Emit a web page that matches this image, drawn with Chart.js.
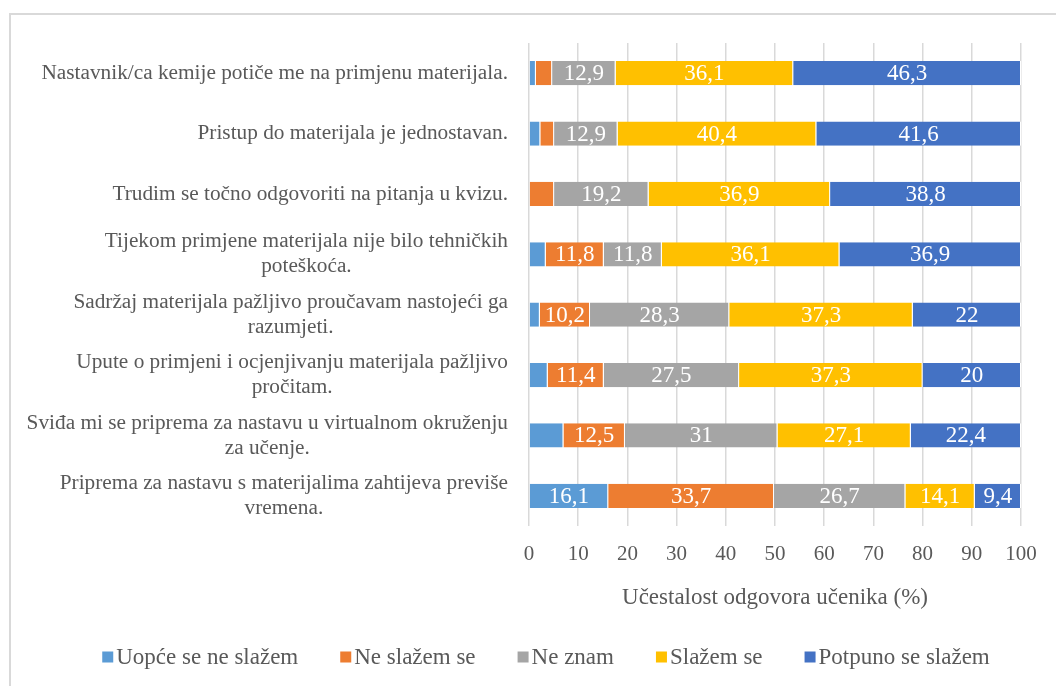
<!DOCTYPE html>
<html>
<head>
<meta charset="utf-8">
<script src="https://cdn.jsdelivr.net/npm/chart.js@4.4.1/dist/chart.umd.min.js"></script>
<style>
  html, body { margin: 0; padding: 0; background: #fff; overflow: hidden; }
  #chart { display: block; }
</style>
</head>
<body>
<canvas id="chart" width="1056" height="686"></canvas>
<script>
// Tvrdnje (kategorije na osi y), prelomljene u retke kao u izvorniku
const categories = [
  ['Nastavnik/ca kemije potiče me na primjenu materijala.'],
  ['Pristup do materijala je jednostavan.'],
  ['Trudim se točno odgovoriti na pitanja u kvizu.'],
  ['Tijekom primjene materijala nije bilo tehničkih', 'poteškoća.'],
  ['Sadržaj materijala pažljivo proučavam nastojeći ga', 'razumjeti.'],
  ['Upute o primjeni i ocjenjivanju materijala pažljivo', 'pročitam.'],
  ['Sviđa mi se priprema za nastavu u virtualnom okruženju', 'za učenje.'],
  ['Priprema za nastavu s materijalima zahtijeva previše', 'vremena.']
];

// Postoci odgovora po kategoriji
const uopceSeNeSlazem = [1.4, 2.3, 0, 3.4, 2.2, 3.8, 7.0, 16.1];
const neSlazemSe = [3.3, 2.8, 5.1, 11.8, 10.2, 11.4, 12.5, 33.7];
const neZnam = [12.9, 12.9, 19.2, 11.8, 28.3, 27.5, 31, 26.7];
const slazemSe = [36.1, 40.4, 36.9, 36.1, 37.3, 37.3, 27.1, 14.1];
const potpunoSeSlazem = [46.3, 41.6, 38.8, 36.9, 22, 20, 22.4, 9.4];

const seriesNames = ['Uopće se ne slažem', 'Ne slažem se', 'Ne znam', 'Slažem se', 'Potpuno se slažem'];
const seriesColors = ['#5B9BD5', '#ED7D31', '#A5A5A5', '#FFC000', '#4472C4'];
const xTitle = 'Učestalost odgovora učenika (%)';

const SERIF = "'Liberation Serif', 'Times New Roman', serif";
const TEXT = '#595959';

// okvir grafikona (kao u Excelu)
const framePlugin = {
  id: 'frame',
  beforeDraw(chart) {
    const ctx = chart.ctx;
    ctx.save();
    ctx.fillStyle = '#fff';
    ctx.fillRect(0, 0, chart.width, chart.height);
    ctx.strokeStyle = '#d9d9d9';
    ctx.lineWidth = 2;
    ctx.beginPath();
    ctx.moveTo(chart.width, 14);
    ctx.lineTo(10, 14);
    ctx.lineTo(10, chart.height);
    ctx.stroke();
    ctx.restore();
  }
};

// natpisi kategorija: blok poravnat desno, retci centrirani međusobno
const categoryLabels = {
  id: 'categoryLabels',
  afterDraw(chart) {
    const ctx = chart.ctx;
    const yScale = chart.scales.y;
    const right = chart.chartArea.left - 21;
    const lineH = 25;
    ctx.save();
    ctx.font = '21.3px ' + SERIF;
    ctx.fillStyle = TEXT;
    ctx.textAlign = 'center';
    ctx.textBaseline = 'middle';
    chart.data.labels.forEach((lines, i) => {
      const y = yScale.getPixelForTick(i);
      const w = Math.max(...lines.map(l => ctx.measureText(l).width));
      const cx = right - w / 2;
      const y0 = y - (lines.length - 1) * lineH / 2;
      lines.forEach((l, j) => ctx.fillText(l, cx, y0 + j * lineH));
    });
    ctx.restore();
  }
};

// vrijednosti unutar segmenata
const valueLabels = {
  id: 'valueLabels',
  afterDatasetsDraw(chart) {
    const ctx = chart.ctx;
    ctx.save();
    ctx.font = '23px ' + SERIF;
    ctx.fillStyle = '#fff';
    ctx.textAlign = 'center';
    ctx.textBaseline = 'middle';
    chart.data.datasets.forEach((ds, di) => {
      chart.getDatasetMeta(di).data.forEach((bar, i) => {
        const v = ds.data[i];
        if (v < 9) return;
        const p = bar.getCenterPoint();
        ctx.fillText(String(v).replace('.', ','), p.x, p.y + 1);
      });
    });
    ctx.restore();
  }
};

// legenda ispod osi, centrirana kao u izvorniku
const bottomLegend = {
  id: 'bottomLegend',
  afterDraw(chart) {
    const ctx = chart.ctx;
    const box = 11, gap = 3, spacing = 42;
    const y = 657, centerX = 546;
    ctx.save();
    ctx.font = '23px ' + SERIF;
    ctx.textBaseline = 'middle';
    ctx.textAlign = 'left';
    const items = chart.data.datasets.map(ds => ({
      text: ds.label, color: ds.backgroundColor, w: ctx.measureText(ds.label).width
    }));
    const total = items.reduce((s, it) => s + box + gap + it.w, 0) + spacing * (items.length - 1);
    let x = centerX - total / 2;
    items.forEach(it => {
      ctx.fillStyle = it.color;
      ctx.fillRect(x, y - box / 2, box, box);
      ctx.fillStyle = TEXT;
      ctx.fillText(it.text, x + box + gap, y + 1);
      x += box + gap + it.w + spacing;
    });
    ctx.restore();
  }
};

const datasets = [uopceSeNeSlazem, neSlazemSe, neZnam, slazemSe, potpunoSeSlazem].map((data, i) => ({
  label: seriesNames[i],
  data: data,
  backgroundColor: seriesColors[i],
  borderColor: '#ffffff',
  borderWidth: { left: 0, right: 1, top: 0, bottom: 0 },
  borderSkipped: false,
  categoryPercentage: 1,
  barPercentage: 0.4
}));

new Chart(document.getElementById('chart').getContext('2d'), {
  type: 'bar',
  data: { labels: categories, datasets: datasets },
  options: {
    indexAxis: 'y',
    responsive: false,
    animation: false,
    layout: { padding: { top: 43, right: 35, bottom: 70, left: 71 } },
    scales: {
      x: {
        stacked: true,
        min: 0,
        max: 100,
        ticks: { stepSize: 10, color: TEXT, font: { family: SERIF, size: 21 }, padding: 16 },
        grid: { color: '#d9d9d9', lineWidth: 1.5, drawTicks: false },
        border: { display: false },
        title: {
          display: true,
          text: xTitle,
          color: TEXT,
          font: { family: SERIF, size: 23 },
          padding: { top: 0, bottom: 4 }
        },
        afterFit(scale) { scale.height = 90; }
      },
      y: {
        stacked: true,
        ticks: { display: false },
        grid: { display: false },
        border: { display: false },
        afterFit(scale) { scale.width = 458; }
      }
    },
    plugins: {
      legend: { display: false },
      tooltip: { enabled: false }
    }
  },
  plugins: [framePlugin, categoryLabels, valueLabels, bottomLegend]
});
</script>
</body>
</html>
